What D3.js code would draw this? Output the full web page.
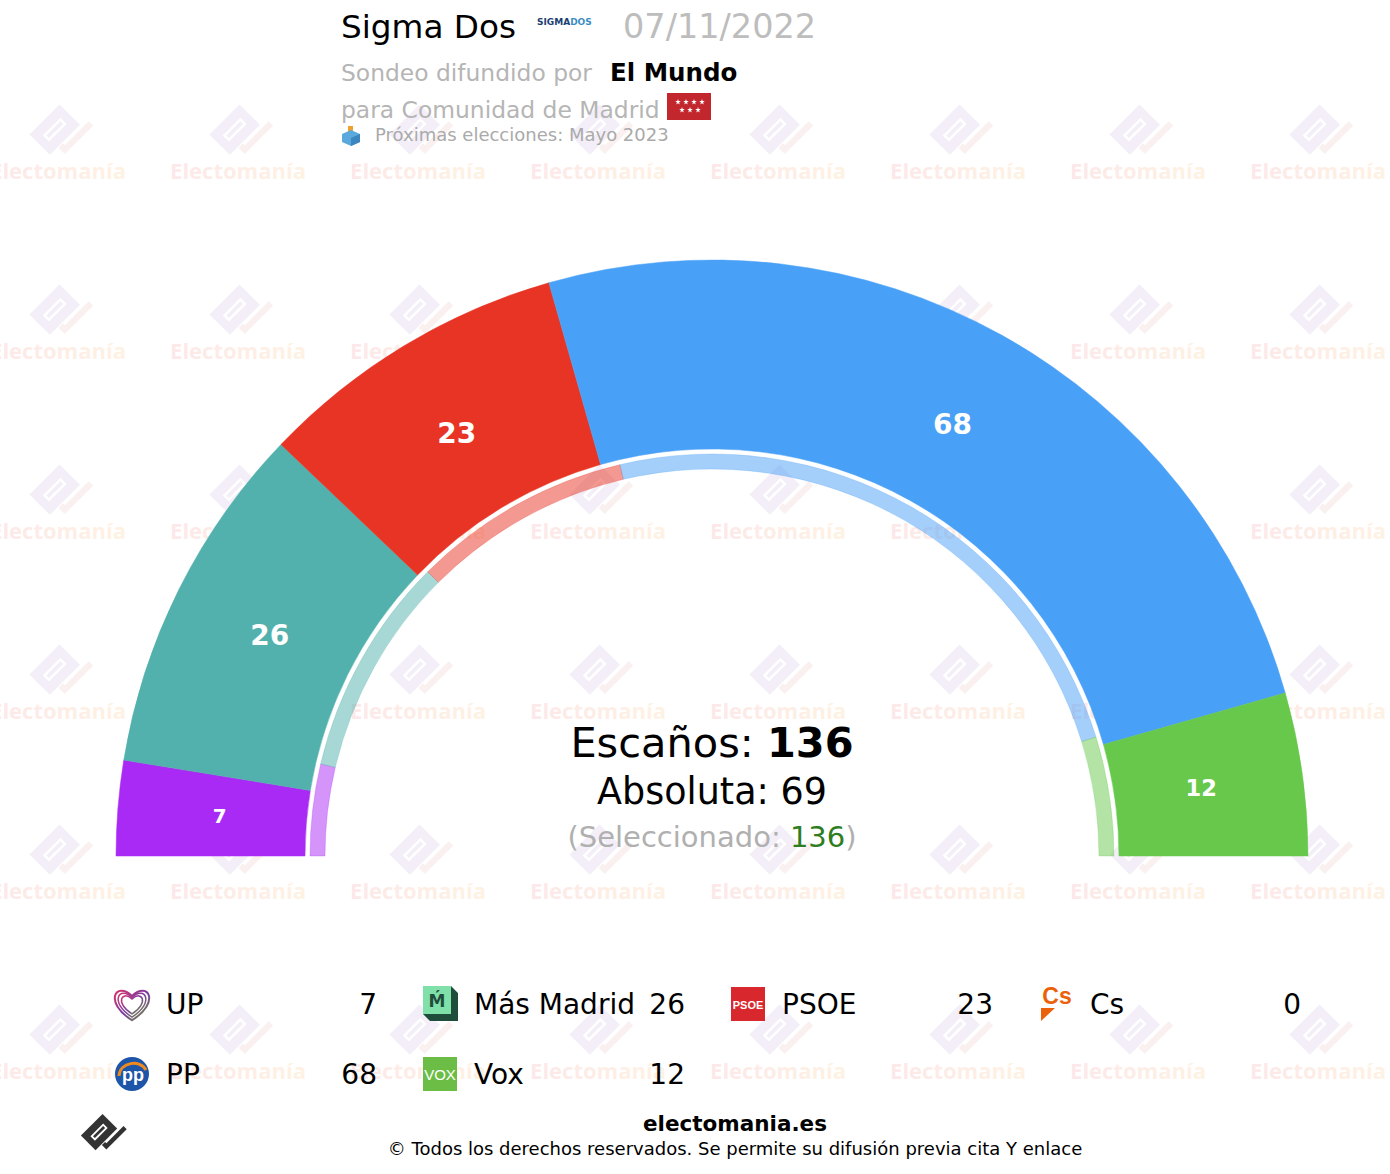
<!DOCTYPE html>
<html>
<head>
<meta charset="utf-8">
<script src="https://cdn.jsdelivr.net/npm/d3@7"></script>
<style>
  body { margin: 0; background: #fff; }
  svg { display: block; font-family: "DejaVu Sans", Verdana, sans-serif; }
</style>
</head>
<body>
<div id="chart"></div>
<script>
// data
const parties = ["UP", "Más Madrid", "PSOE", "Cs", "PP", "Vox"];
const seats = [7, 26, 23, 0, 68, 12];
const previousSeats = [10, 24, 24, 0, 65, 13];
const partyColors = ["#aa2af5", "#52b1ac", "#e83424", "#eb6109", "#49a0f7", "#67c84b"];
const totalSeats = 136;
const majority = 69;
const pollster = "Sigma Dos";
const pollDate = "07/11/2022";
const media = "El Mundo";
const region = "Comunidad de Madrid";
const nextElection = "Próximas elecciones: Mayo 2023";

const W = 1390, H = 1174;
const cx = 712, cy = 856;

const svg = d3.select("#chart").append("svg")
    .attr("width", W)
    .attr("height", H);

const defs = svg.append("defs");
const wmGrad = defs.append("linearGradient").attr("id", "wmGrad");
wmGrad.append("stop").attr("offset", "0%").attr("stop-color", "#fce8e9");
wmGrad.append("stop").attr("offset", "100%").attr("stop-color", "#fef2e3");
const heartGrad = defs.append("linearGradient").attr("id", "heartGrad")
    .attr("x1", "0").attr("y1", "0").attr("x2", "1").attr("y2", "1");
heartGrad.append("stop").attr("offset", "0%").attr("stop-color", "#d6336c");
heartGrad.append("stop").attr("offset", "50%").attr("stop-color", "#7b3aa0");
heartGrad.append("stop").attr("offset", "100%").attr("stop-color", "#6d9a3a");

// electomania logo (block + check)
function drawLogo(g, body, check) {
    const r = g.append("g").attr("transform", "rotate(-45)");
    r.append("rect").attr("x", -17).attr("y", -13).attr("width", 34).attr("height", 23).attr("fill", body);
    r.append("rect").attr("x", -9).attr("y", -4).attr("width", 18).attr("height", 5)
        .attr("fill", "none").attr("stroke", "#fff").attr("stroke-width", 2);
    r.append("path").attr("d", "M-8,11 L-8,18 L24,18 L24,13 L-3,13 L-3,11 Z").attr("fill", check);
}

// watermark grid
const wm = svg.append("g").attr("class", "watermark");
d3.range(8).forEach(i => {
    d3.range(6).forEach(j => {
        const x = 58 + 180 * i, y = 171 + 180 * j;
        const g = wm.append("g").attr("transform", `translate(${x - 2},${y - 40}) scale(1.25)`);
        drawLogo(g, "#f3eef7", "#faf0f0");
        wm.append("text")
            .attr("x", x).attr("y", y + 8)
            .attr("text-anchor", "middle")
            .attr("font-family", "'Open Sans', Roboto, sans-serif")
            .attr("font-weight", "bold")
            .attr("font-size", 22)
            .attr("fill", "url(#wmGrad)")
            .text("Electomanía");
    });
});

// header
const head = svg.append("g");
head.append("text").attr("x", 341).attr("y", 38).attr("font-size", 32.7).attr("fill", "#000").text(pollster);
const sd = head.append("text").attr("x", 537).attr("y", 25).attr("font-size", 9).attr("font-weight", "bold");
sd.append("tspan").attr("fill", "#1c3f73").text("SIGMA");
sd.append("tspan").attr("fill", "#3d8dc4").text("DOS");
head.append("text").attr("x", 623).attr("y", 38).attr("font-size", 33.5).attr("fill", "#bdbdbd").text(pollDate);
const sub = head.append("text").attr("x", 341).attr("y", 81).attr("font-size", 23.4).attr("fill", "#b5b5b5");
sub.append("tspan").text("Sondeo difundido por ");
sub.append("tspan").attr("x", 610).attr("fill", "#000").attr("font-weight", "bold").attr("font-size", 24.5).text(media);
head.append("text").attr("x", 341).attr("y", 118).attr("font-size", 23.4).attr("fill", "#b5b5b5")
    .text("para " + region);
// flag
head.append("rect").attr("x", 667).attr("y", 93).attr("width", 44).attr("height", 27).attr("fill", "#c1272d");
const star = d3.symbol().type(d3.symbolStar).size(10);
[[678, 102], [686, 102], [694, 102], [702, 102], [682, 110], [690, 110], [698, 110]].forEach(p => {
    head.append("path").attr("d", star()).attr("transform", `translate(${p[0]},${p[1]})`).attr("fill", "#fff");
});
// ballot box
head.append("rect").attr("x", 348).attr("y", 126).attr("width", 5).attr("height", 7).attr("fill", "#f0a030");
head.append("path").attr("d", "M342,134 L351,130 L360,134 L360,142 L351,146 L342,142 Z").attr("fill", "#5aa9dc");
head.append("path").attr("d", "M351,138 L360,134 L360,142 L351,146 Z").attr("fill", "#3b86c0");
head.append("text").attr("x", 375).attr("y", 141).attr("font-size", 18).attr("fill", "#aaa").text(nextElection);

// hemicycle
const chart = svg.append("g").attr("transform", `translate(${cx},${cy})`);
const pie = d3.pie().sort(null).value(d => d.v).startAngle(-Math.PI / 2).endAngle(Math.PI / 2);
const nowData = pie(parties.map((p, i) => ({ p, v: seats[i], c: partyColors[i] })));
const prevData = pie(parties.map((p, i) => ({ p, v: previousSeats[i], c: partyColors[i] })));

const mainArc = d3.arc().innerRadius(407).outerRadius(596);
const ringArc = d3.arc().innerRadius(387).outerRadius(402);
const labelArc = d3.arc().innerRadius(494).outerRadius(494);

chart.selectAll("path.ring")
    .data(prevData.filter(d => d.data.v > 0))
    .join("path")
    .attr("class", "ring")
    .attr("d", ringArc)
    .attr("fill", d => d.data.c)
    .attr("fill-opacity", 0.5)
    .attr("stroke", d => d.data.c)
    .attr("stroke-opacity", 0.25)
    .attr("stroke-width", 1);

chart.selectAll("path.slice")
    .data(nowData.filter(d => d.data.v > 0))
    .join("path")
    .attr("class", "slice")
    .attr("d", mainArc)
    .attr("fill", d => d.data.c)
    .attr("stroke", d => d.data.c)
    .attr("stroke-width", 0.5);

const labelSize = d3.scaleLinear().domain([7, 23]).range([20, 28]).clamp(true);
chart.selectAll("text.seat")
    .data(nowData.filter(d => d.data.v > 0))
    .join("text")
    .attr("class", "seat")
    .attr("transform", d => `translate(${labelArc.centroid(d)})`)
    .attr("text-anchor", "middle")
    .attr("dominant-baseline", "central")
    .attr("font-weight", "bold")
    .attr("font-size", d => labelSize(d.data.v))
    .attr("fill", "#fff")
    .text(d => d.data.v);

// centre text
const t1 = svg.append("text").attr("x", cx).attr("y", 757).attr("text-anchor", "middle").attr("font-size", 41.5);
t1.append("tspan").text("Escaños: ");
t1.append("tspan").attr("font-weight", "bold").text(totalSeats);
svg.append("text").attr("x", cx).attr("y", 804).attr("text-anchor", "middle").attr("font-size", 36.5)
    .text("Absoluta: " + majority);
const t3 = svg.append("text").attr("x", cx).attr("y", 847).attr("text-anchor", "middle").attr("font-size", 29)
    .attr("fill", "#b0b0b0");
t3.append("tspan").text("(Seleccionado: ");
t3.append("tspan").attr("fill", "#2e7d1e").text(d3.sum(seats));
t3.append("tspan").text(")");

// legend icons
function icon(g, name) {
    if (name === "UP") {
        const heart = s => `M0,${s * 0.9} C${-s * 1.6},${-s * 0.1} ${-s * 0.9},${-s * 1.3} 0,${-s * 0.45} C${s * 0.9},${-s * 1.3} ${s * 1.6},${-s * 0.1} 0,${s * 0.9} Z`;
        [18, 14.5, 11].forEach((s, k) => {
            g.append("path").attr("d", heart(s)).attr("fill", "none")
                .attr("stroke", "url(#heartGrad)").attr("stroke-width", k === 0 ? 2 : 1.5);
        });
    } else if (name === "Más Madrid") {
        g.append("path").attr("d", "M-17,10 L-10,17 L18,17 L18,-11 L11,-18 L11,10 Z").attr("fill", "#1f4d3b");
        g.append("rect").attr("x", -17).attr("y", -18).attr("width", 28).attr("height", 28).attr("fill", "#7fe0a9");
        g.append("text").attr("x", -3).attr("y", 3).attr("text-anchor", "middle").attr("font-size", 17)
            .attr("font-weight", "bold").attr("fill", "#1f4d3b").text("Ḿ");
    } else if (name === "PSOE") {
        g.append("rect").attr("x", -17).attr("y", -17).attr("width", 34).attr("height", 34).attr("fill", "#d8282d");
        g.append("text").attr("x", 0).attr("y", 5).attr("text-anchor", "middle").attr("font-size", 11)
            .attr("font-weight", "bold").attr("fill", "#fff").attr("font-family", "'Liberation Sans', sans-serif")
            .text("PSOE");
    } else if (name === "Cs") {
        g.append("text").attr("x", 1).attr("y", 0).attr("text-anchor", "middle").attr("font-size", 23)
            .attr("font-weight", "bold").attr("fill", "#eb6109").attr("font-family", "'Liberation Sans', sans-serif")
            .text("Cs");
        g.append("path").attr("d", "M-15,4 L-1,4 L-15,17 Z").attr("fill", "#eb6109");
    } else if (name === "PP") {
        g.append("circle").attr("r", 17).attr("fill", "#1d56a8");
        g.append("path").attr("d", "M-13,2 C-12,-12 8,-15 14,-4").attr("fill", "none").attr("stroke", "#f08a1c").attr("stroke-width", 3);
        g.append("text").attr("x", 1).attr("y", 7).attr("text-anchor", "middle").attr("font-size", 18)
            .attr("font-weight", "bold").attr("fill", "#fff").attr("font-family", "'Liberation Sans', sans-serif")
            .text("pp");
    } else if (name === "Vox") {
        g.append("rect").attr("x", -17).attr("y", -17).attr("width", 34).attr("height", 34).attr("fill", "#6bbd45");
        g.append("text").attr("x", 0).attr("y", 6).attr("text-anchor", "middle").attr("font-size", 15)
            .attr("fill", "#fff").attr("font-family", "'Liberation Sans', sans-serif").text("VOX");
    }
}

const legend = svg.append("g").selectAll("g")
    .data(parties.map((p, i) => ({ p, v: seats[i] })))
    .join("g")
    .attr("transform", (d, i) => `translate(${308 * (i % 4)},${1004 + 70 * Math.floor(i / 4)})`);
legend.each(function (d) {
    icon(d3.select(this).append("g").attr("transform", "translate(132,0)"), d.p);
});
legend.append("text").attr("x", 166).attr("y", 10).attr("font-size", 28).text(d => d.p);
legend.append("text").attr("x", 377).attr("y", 10).attr("font-size", 28).attr("text-anchor", "end").text(d => d.v);

// footer
drawLogo(svg.append("g").attr("transform", "translate(100,1133) scale(0.9)"), "#333", "#333");
svg.append("text").attr("x", 735).attr("y", 1131).attr("text-anchor", "middle").attr("font-size", 21.5)
    .attr("font-weight", "bold").text("electomania.es");
svg.append("text").attr("x", 735).attr("y", 1155).attr("text-anchor", "middle").attr("font-size", 18)
    .text("© Todos los derechos reservados. Se permite su difusión previa cita Y enlace");
</script>
</body>
</html>
